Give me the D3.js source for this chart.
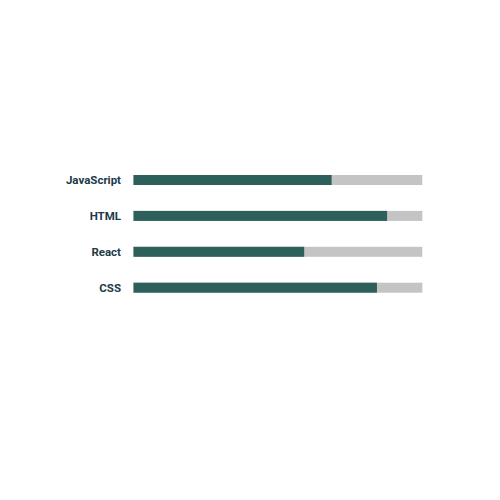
<!DOCTYPE html>
<html>
<head>
<meta charset="utf-8">
<script src="https://cdn.jsdelivr.net/npm/d3@7"></script>
<style>
  html, body { margin: 0; padding: 0; background: #ffffff; }
  svg { display: block; }
</style>
</head>
<body>
<div id="chart"></div>
<script>
const skills = ["JavaScript", "HTML", "React", "CSS"];
const levels = [68.6, 87.8, 59.1, 84.3];
const maxLevel = 100;

const width = 500, height = 500;
const svg = d3.select("#chart").append("svg")
  .attr("width", width).attr("height", height);

const x = d3.scaleLinear().domain([0, maxLevel]).range([133.5, 422.3]);
const y = d3.scalePoint().domain(skills).range([180, 287.7]);
const barH = 10;

const data = skills.map((s, i) => ({ skill: s, level: levels[i] }));

const rows = svg.append("g").selectAll("g").data(data).join("g");

rows.append("rect")
  .attr("x", x(0))
  .attr("y", d => y(d.skill) - barH / 2)
  .attr("width", x(maxLevel) - x(0))
  .attr("height", barH)
  .attr("fill", "#c4c4c4");

rows.append("rect")
  .attr("x", x(0))
  .attr("y", d => y(d.skill) - barH / 2)
  .attr("width", d => x(d.level) - x(0))
  .attr("height", barH)
  .attr("fill", "#2e605b");

rows.append("text")
  .attr("x", 121)
  .attr("y", d => y(d.skill))
  .attr("dy", "0.35em")
  .attr("text-anchor", "end")
  .attr("font-family", "Roboto, sans-serif")
  .attr("font-weight", "bold")
  .attr("font-size", "11.5px")
  .attr("fill", "#1c3a48")
  .text(d => d.skill);
</script>
</body>
</html>
